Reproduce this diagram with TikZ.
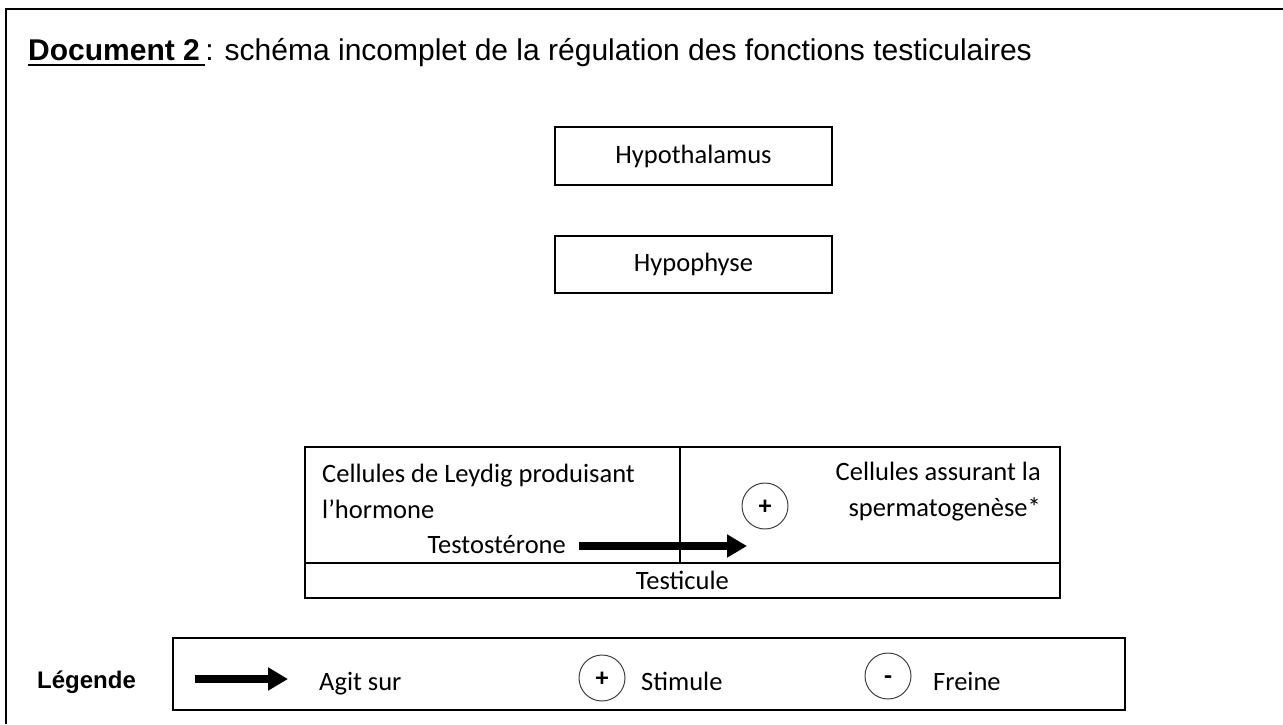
\documentclass[tikz,border=0pt]{standalone}
\usepackage{fontspec}
\setmainfont{Carlito}
\newfontfamily\arialfont{Liberation Sans}
\usetikzlibrary{arrows.meta}
\begin{document}
\begin{tikzpicture}[x=1pt,y=-1pt,
  box/.style={draw, line width=1.6pt, inner sep=0pt},
  lbl/.style={font=\fontsize{26.5}{30}\selectfont, inner sep=0pt},
  ttl/.style={font=\arialfont\fontsize{30}{34}\selectfont, inner sep=0pt},
  legttl/.style={font=\arialfont\bfseries\fontsize{24}{28}\selectfont, inner sep=0pt},
  sign/.style={draw=black!75, line width=1pt, circle, minimum size=46pt, inner sep=0pt,
    text height=17pt, text depth=0pt, font=\fontsize{26}{26}\selectfont\bfseries},
  fat/.style={line width=8pt, -{Triangle[length=20pt,width=22pt]}},
]
\useasboundingbox (0,0) rectangle (1283,724);
% outer frame
\draw[line width=1.8pt] (6,724) -- (6,9) -- (1283,9);

% title
\node[ttl, anchor=base west] (doc) at (28,60) {\bfseries Document 2};
\node[ttl, anchor=base west] (rest) at (doc.base east) {\,: schéma incomplet de la régulation des fonctions testiculaires};
\draw[line width=1.8pt] ([yshift=-5pt]doc.base west) -- ([yshift=-5pt,xshift=5pt]doc.base east);

% upper boxes
\node[box, lbl, minimum width=277pt, minimum height=58pt] (hypothal) at (693.5,156) {Hypothalamus};
\node[box, lbl, minimum width=277pt, minimum height=57pt] (hypoph) at (693.5,264.5) {Hypophyse};

% testicule
\node[box, minimum width=375pt, minimum height=116pt, anchor=north west] (leydig) at (304,446) {};
\node[box, minimum width=380pt, minimum height=116pt, anchor=north west] (sperm) at (679,446) {};
\node[box, lbl, minimum width=755pt, minimum height=35pt, anchor=north west] (testicule) at (304,562) {Testicule};

\node[lbl, anchor=base west] (ley1) at (322,482) {Cellules de Leydig produisant};
\node[lbl, anchor=base west] (ley2) at (322,518) {l’hormone};
\node[lbl, anchor=base east] (testo) at (566,553) {Testostérone};
\coordinate (tend) at (747,546);
\draw[fat] ([xshift=13pt,yshift=7pt]testo.base east) -- (tend);
\node[sign] (plus) at (765,506) {+};
\node[lbl, anchor=base east] (sp1) at (1041,480) {Cellules assurant la};
\node[lbl, anchor=base east] (sp2) at (1041,516) {spermatogenèse*};

% legend
\node[legttl, anchor=base west] (leg) at (37,688) {Légende};
\node[box, minimum width=952pt, minimum height=72pt, anchor=north west] (legbox) at (172,637) {};
\coordinate (la1) at (195,679);
\coordinate (la2) at (288,679);
\draw[fat] (la1) -- (la2);
\node[lbl, anchor=base west] (agit) at (319,690) {Agit sur};
\node[sign] (lplus) at (602,678) {+};
\node[lbl, anchor=base west] (stim) at (641,690) {Stimule};
\node[sign] (lminus) at (888,676) {-};
\node[lbl, anchor=base west] (frein) at (933,690) {Freine};
\end{tikzpicture}
\end{document}
